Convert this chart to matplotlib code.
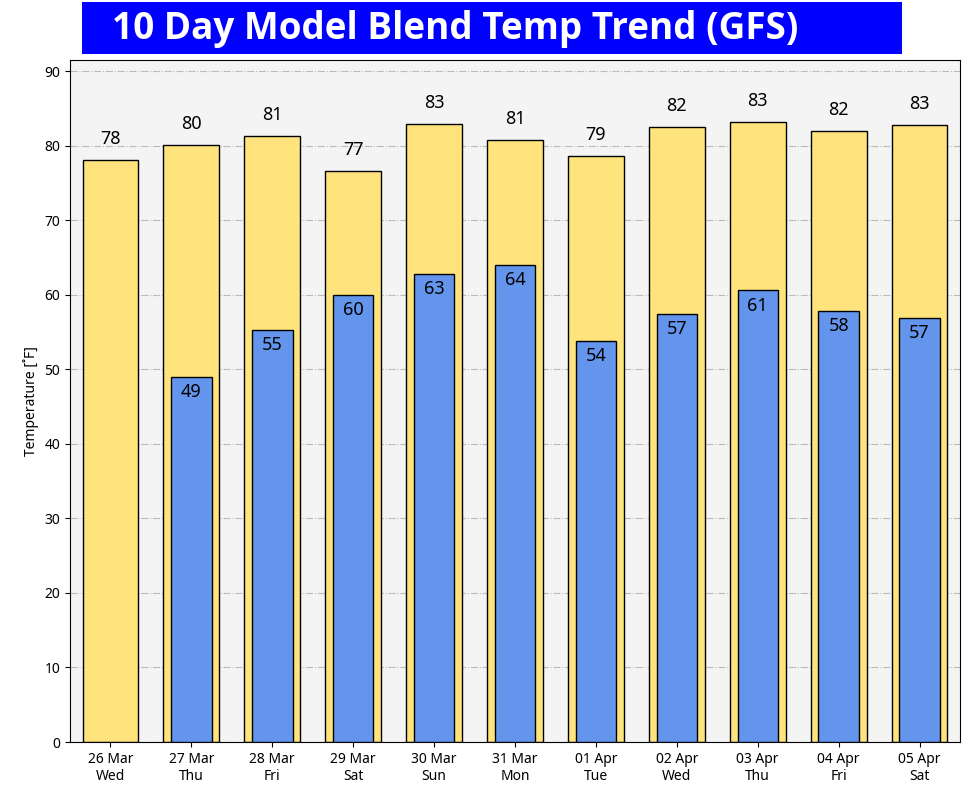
import matplotlib.pyplot as plt
from matplotlib.patches import Rectangle
import numpy as np

# dates / weekdays
dates = ['26 Mar', '27 Mar', '28 Mar', '29 Mar', '30 Mar', '31 Mar',
         '01 Apr', '02 Apr', '03 Apr', '04 Apr', '05 Apr']
days = ['Wed', 'Thu', 'Fri', 'Sat', 'Sun', 'Mon', 'Tue', 'Wed', 'Thu', 'Fri', 'Sat']

# highs and lows (F), first day has no low
highs = [78.1, 80.1, 81.3, 76.6, 82.9, 80.8, 78.6, 82.5, 83.2, 82.0, 82.8]
lows = [None, 49.0, 55.3, 60.0, 62.8, 64.0, 53.8, 57.4, 60.6, 57.8, 56.9]

plt.rcParams['font.family'] = ['Noto Sans', 'DejaVu Sans']

fig = plt.figure(figsize=(9.65, 7.92), dpi=100)
ax = fig.add_axes([70 / 965, 1 - 742 / 792, 890 / 965, 682 / 792])
ax.set_facecolor('#f4f4f5')

x = np.arange(len(dates))
ax.bar(x, highs, width=0.69, color='#ffe37d', edgecolor='black', linewidth=1, zorder=2)
for xi, h in zip(x, highs):
    ax.annotate(f'{round(h)}', (xi, h), xytext=(0, 15), textcoords='offset points',
                ha='center', va='center', fontsize=13)

for xi, lo in zip(x, lows):
    if lo is None:
        continue
    ax.bar(xi, lo, width=0.5, color='#6495ed', edgecolor='black', linewidth=1, zorder=3)
    ax.annotate(f'{round(lo)}', (xi, lo), xytext=(0, -11), textcoords='offset points',
                ha='center', va='center', fontsize=13, zorder=4)

ax.set_xlim(-0.5, len(dates) - 0.5)
ax.set_ylim(0, 91.5)
ax.set_yticks(np.arange(0, 91, 10))
ax.set_xticks(x)
ax.set_xticklabels([f'{d}\n{w}' for d, w in zip(dates, days)], fontsize=10)
ax.tick_params(axis='y', labelsize=10)
ax.grid(axis='y', linestyle='-.', color='#bbbbbb', linewidth=0.8, zorder=0)
ax.set_axisbelow(True)
ax.set_ylabel('Temperature [˚F]', fontsize=10)

# title box
fig.patches.append(Rectangle((82 / 965, 1 - 54 / 792), 820 / 965, 52 / 792,
                             transform=fig.transFigure, facecolor='#0000ff',
                             edgecolor='none'))
fig.text(112 / 965, 1 - 29 / 792, '10 Day Model Blend Temp Trend (GFS)',
         ha='left', va='center', color='white', fontsize=26.6, fontweight='bold',
         family='Open Sans')

fig.savefig('out.png', dpi=100)
